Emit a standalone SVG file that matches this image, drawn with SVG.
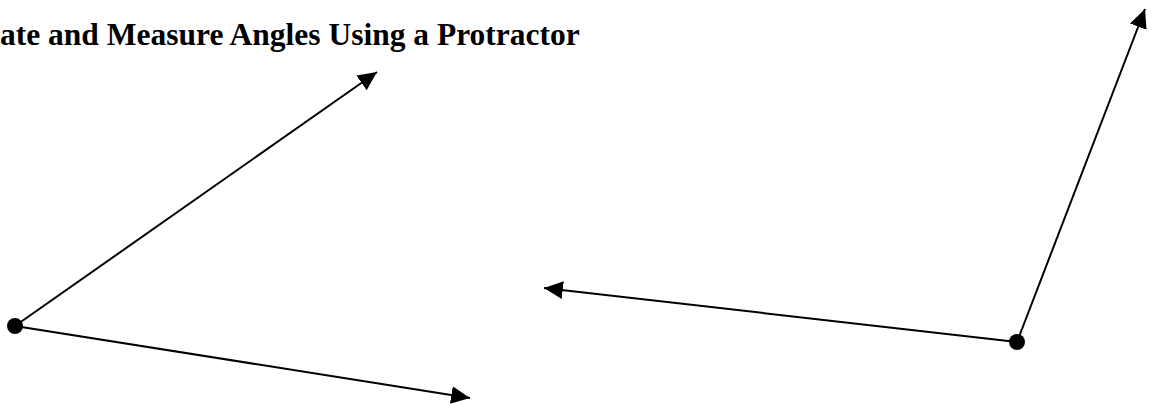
<svg xmlns="http://www.w3.org/2000/svg" width="1155" height="404" viewBox="0 0 1155 404">
<defs>
<style>
.ray{stroke:#000;stroke-width:2;fill:none;marker-end:url(#ah)}
.vtx{fill:#000}
.title{font-family:"Liberation Serif","Times New Roman",serif;font-weight:bold;font-size:31.5px;fill:#000}
</style>
<marker id="ah" markerUnits="userSpaceOnUse" markerWidth="20" markerHeight="20" viewBox="0 0 18 16" refX="17" refY="8" orient="auto">
<path d="M0,0 L17,8 L0,16 Z" fill="#000"/>
</marker>
</defs>
<text class="title" x="0" y="45">ate and Measure Angles Using a Protractor</text>
<g id="connectors">
<line class="ray" x1="15" y1="326" x2="377" y2="72"/>
<line class="ray" x1="15" y1="326" x2="470" y2="398"/>
<line class="ray" x1="1017" y1="342" x2="544" y2="288"/>
<line class="ray" x1="1017" y1="342" x2="1145" y2="9"/>
</g>
<g id="vertex-left"><circle class="vtx" cx="15" cy="326" r="8"/></g>
<g id="vertex-right"><circle class="vtx" cx="1017" cy="342" r="8"/></g>
</svg>
